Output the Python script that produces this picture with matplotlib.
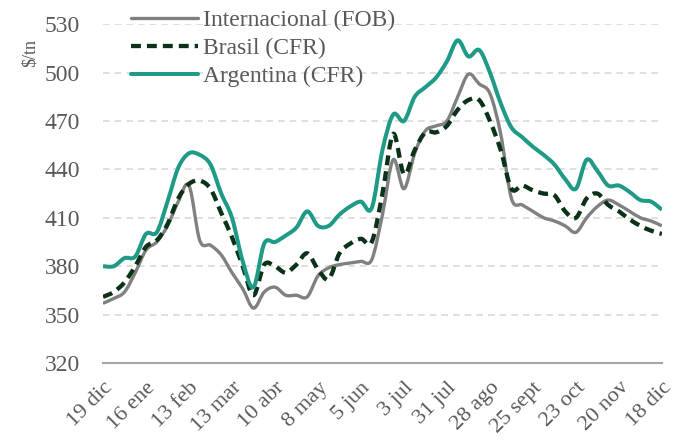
import numpy as np
import matplotlib.pyplot as plt
from matplotlib.path import Path
from matplotlib.patches import PathPatch
from matplotlib.lines import Line2D

# weekly prices, 19 dic -> 18 dic (53 weeks)
internacional = [357, 360, 364, 376, 390, 395, 405, 420, 430, 396, 393, 387, 376, 366,
                 354, 364, 367, 362, 362, 361, 374, 379, 381, 382, 383, 384, 412, 446,
                 428, 450, 464, 467, 470, 485, 499, 493, 487, 462, 422, 418, 414, 410,
                 408, 405, 401, 410, 417, 421, 418, 414, 410, 408, 405]
brasil = [361, 364, 370, 380, 392, 396, 406, 422, 431, 433, 428, 413, 398, 380,
          362, 381, 380, 376, 381, 388, 378, 372, 388, 394, 397, 395, 425, 462,
          437, 452, 463, 463, 467, 477, 483, 483, 470, 452, 428, 430, 427, 425,
          424, 414, 410, 422, 425, 418, 414, 409, 405, 402, 400]
argentina = [380, 380, 385, 386, 400, 401, 420, 441, 450, 449, 443, 425, 410, 383,
             367, 394, 395, 399, 404, 414, 405, 405, 412, 417, 420, 416, 452, 474,
             470, 485, 491, 497, 507, 520, 510, 514, 500, 481, 466, 460, 454, 449,
             443, 434, 428, 446, 439, 430, 430, 426, 421, 420, 415]

tick_labels = ["19 dic", "16 ene", "13 feb", "13 mar", "10 abr", "8 may", "5 jun",
               "3 jul", "31 jul", "28 ago", "25 sept", "23 oct", "20 nov", "18 dic"]

GREY = "#808080"
DARK = "#0b3218"
TEAL = "#1f9a87"
TXT = "#595959"


def smooth_path(xs, ys):
    # Excel-style smoothed line: cubic bezier segments through every point
    pts = np.column_stack([xs, ys]).astype(float)
    verts = [pts[0]]
    codes = [Path.MOVETO]
    n = len(pts)
    for i in range(n - 1):
        p0 = pts[max(i - 1, 0)]
        p1 = pts[i]
        p2 = pts[i + 1]
        p3 = pts[min(i + 2, n - 1)]
        verts += [p1 + (p2 - p0) / 6, p2 - (p3 - p1) / 6, p2]
        codes += [Path.CURVE4] * 3
    return Path(verts, codes)


plt.rcParams["font.family"] = ["Liberation Serif", "DejaVu Serif"]

fig = plt.figure(figsize=(6.75, 4.4), dpi=100)
ax = fig.add_axes([0.1526, 0.175, 0.828, 0.77])

x = np.arange(len(argentina))
series = [
    (internacional, "Internacional (FOB)", dict(color=GREY, lw=2.4, ls="-"), 3),
    (brasil, "Brasil (CFR)", dict(color=DARK, lw=3.1, ls=(0, (2.3, 1.4))), 4),
    (argentina, "Argentina (CFR)", dict(color=TEAL, lw=2.9, ls="-"), 5),
]
handles = []
for ys, name, st, z in series:
    patch = PathPatch(smooth_path(x, ys), fill=False, edgecolor=st["color"],
                      lw=st["lw"], ls=st["ls"], capstyle="butt", joinstyle="round",
                      zorder=z)
    ax.add_patch(patch)
    handles.append(Line2D([], [], color=st["color"], lw=st["lw"], ls=st["ls"],
                          solid_capstyle="round", label=name))

ax.set_xlim(0, len(x) - 1)
ax.set_ylim(320, 530)
ax.set_yticks(np.arange(320, 531, 30))
ax.set_xticks(np.arange(0, len(x), 4))
ax.set_xticklabels(tick_labels, rotation=45, ha="right", rotation_mode="anchor")

ax.tick_params(length=0, colors=TXT)
ax.tick_params(axis="y", pad=16.5, labelsize=17)
ax.tick_params(axis="x", pad=11, labelsize=16)
ax.grid(axis="y", color="#d9d9d9", ls=(0, (4, 3)), lw=1.2)
ax.set_axisbelow(True)
for s in ["top", "right", "left"]:
    ax.spines[s].set_visible(False)
ax.spines["bottom"].set_color("#a6a6a6")
ax.spines["bottom"].set_linewidth(1.5)

fig.text(0.045, 0.88, "$/tn", rotation=90, fontsize=13, color=TXT,
         ha="center", va="center")

fig.legend(handles=handles, loc="upper left", bbox_to_anchor=(0.18, 1.0),
           frameon=False, fontsize=17, labelcolor=TXT, handlelength=2.85,
           handletextpad=0.2, labelspacing=0.28, borderaxespad=0)

fig.savefig("out.png", dpi=100)
